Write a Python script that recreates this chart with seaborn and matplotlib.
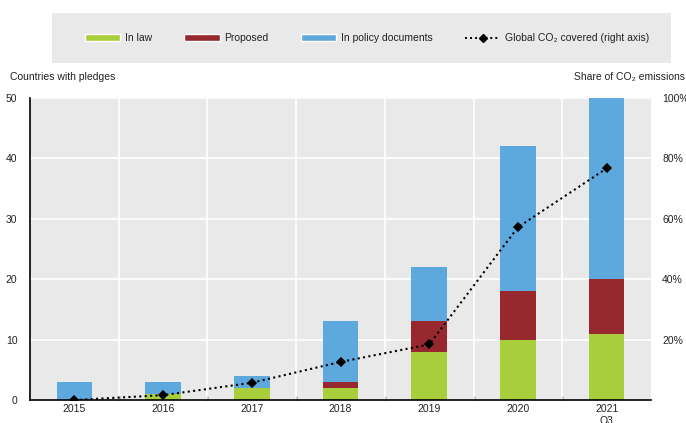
import numpy as np
import pandas as pd
import seaborn as sns
import matplotlib.pyplot as plt
from matplotlib.patches import Patch, Rectangle
from matplotlib.lines import Line2D
from matplotlib.ticker import FixedLocator, PercentFormatter

# data
years = ["2015", "2016", "2017", "2018", "2019", "2020", "2021\nQ3"]
in_law = [0, 1, 2, 2, 8, 10, 11]
proposed = [0, 0, 0, 1, 5, 8, 9]
in_policy = [3, 2, 2, 10, 9, 24, 30]
co2_covered = [0.0, 1.6, 5.7, 12.6, 18.4, 57.2, 76.7]

green = "#A8CE3B"
red = "#96282E"
blue = "#5DA9DD"
bg = "#E9E9E9"
txt = "#222222"
fs = 7.5

df = pd.DataFrame({"year": years, "law": in_law, "proposed": proposed,
                   "policy": in_policy, "co2": co2_covered})
df["law_prop"] = df["law"] + df["proposed"]
df["total"] = df["law_prop"] + df["policy"]

sns.set_theme(style="white")
plt.rcParams["font.family"] = ["Liberation Sans Narrow", "Liberation Sans", "DejaVu Sans"]
plt.rcParams["font.size"] = fs

fig = plt.figure(figsize=(6.86, 4.23), dpi=100)
ax = fig.add_axes([30 / 686, 23 / 423, 621 / 686, 302 / 423])
ax.set_facecolor(bg)

# stacked bars: draw cumulative totals on top of each other
bar_kw = dict(width=0.4, saturation=1, linewidth=0, ax=ax)
sns.barplot(data=df, x="year", y="total", color=blue, zorder=2, **bar_kw)
sns.barplot(data=df, x="year", y="law_prop", color=red, zorder=3, **bar_kw)
sns.barplot(data=df, x="year", y="law", color=green, zorder=4, **bar_kw)

ax.set_ylim(0, 50)
ax.set_xlim(-0.5, len(years) - 0.5)
ax.set_yticks([0, 10, 20, 30, 40, 50])
ax.set(xlabel="", ylabel="")
ax.xaxis.set_minor_locator(FixedLocator(np.arange(0.5, len(years) - 0.5, 1)))
ax.tick_params(axis="x", which="major", length=0, pad=3, labelsize=fs, colors=txt)
ax.tick_params(axis="x", which="minor", bottom=True, length=3, direction="in", width=1, color="black")
ax.tick_params(axis="y", length=0, pad=9, labelsize=fs, colors=txt)
ax.grid(False)
for v in [10, 20, 30, 40, 50]:
    ax.axhline(v, color="white", lw=1.2, zorder=1)
for v in np.arange(0.5, len(years) - 0.5, 1):
    ax.axvline(v, color="white", lw=1.2, zorder=1)
for s in ["top", "right"]:
    ax.spines[s].set_visible(False)
for s in ["left", "bottom"]:
    ax.spines[s].set_color("black")
    ax.spines[s].set_linewidth(1.2)
    ax.spines[s].set_zorder(6)

# right axis: share of CO2 emissions
ax2 = ax.twinx()
sns.pointplot(data=df, x="year", y="co2", color="black", markers="D", linestyles=(0, (1, 1.6)),
              markersize=4, linewidth=1.5, ax=ax2, zorder=7)
ax2.set_ylim(0, 100)
ax2.set_xlim(-0.5, len(years) - 0.5)
ax2.set_yticks([20, 40, 60, 80, 100])
ax2.yaxis.set_major_formatter(PercentFormatter(decimals=0))
ax2.set(xlabel="", ylabel="")
ax2.tick_params(axis="y", length=0, pad=8, labelsize=fs, colors=txt)
for s in ax2.spines.values():
    s.set_visible(False)
ax2.grid(False)

# axis titles
fig.text(10 / 686, 1 - 77 / 423, "Countries with pledges", ha="left", va="center", fontsize=fs, color=txt)
fig.text(685 / 686, 1 - 77 / 423, "Share of CO₂ emissions", ha="right", va="center", fontsize=fs, color=txt)

# legend in grey box
fig.patches.append(Rectangle((52 / 686, 1 - 63 / 423), 619 / 686, 50 / 423,
                             transform=fig.transFigure, facecolor=bg, edgecolor="none", zorder=0))
handles = [Patch(facecolor=green, label="In law"),
           Patch(facecolor=red, label="Proposed"),
           Patch(facecolor=blue, label="In policy documents"),
           Line2D([0], [0], color="black", linestyle=(0, (1, 1.6)), lw=1.4, marker="D",
                  markersize=4, markevery=[1], label="Global CO₂ covered (right axis)")]
handles[3].set_data([0, 0.5, 1], [0, 0, 0])
fig.legend(handles=handles, ncol=4, frameon=False, loc="center",
           bbox_to_anchor=(367 / 686, 1 - 38 / 423), fontsize=fs, handlelength=3.4,
           handleheight=0.6, handletextpad=0.45, columnspacing=3.1, labelcolor=txt)

fig.savefig("out.png", dpi=100)
